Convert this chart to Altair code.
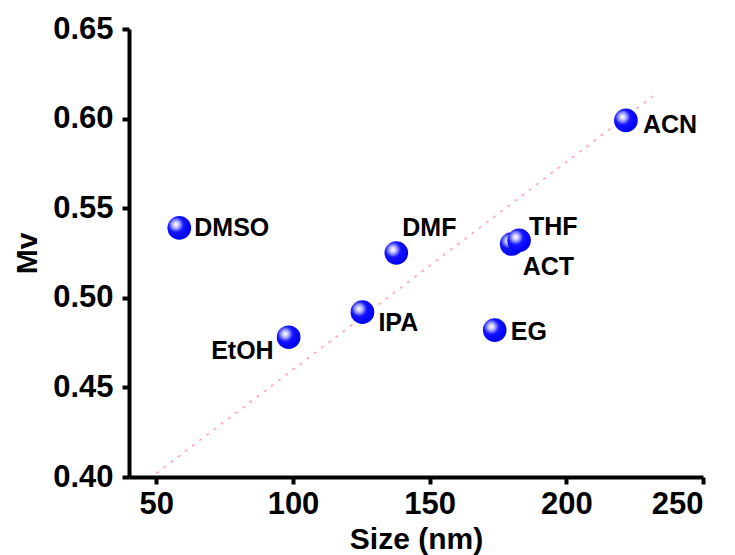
import altair as alt
import pandas as pd

# ---- data ----
solvents = ["DMSO", "EtOH", "IPA", "DMF", "EG", "ACT", "THF", "ACN"]
size_nm = [58.4, 98.4, 125.4, 137.8, 173.8, 180.0, 182.7, 221.8]
mv = [0.539, 0.478, 0.492, 0.525, 0.482, 0.530, 0.532, 0.599]

fit_x = [50, 233]
fit_y = [0.402, 0.614]

x_ticks = [50, 100, 150, 200, 250]
y_ticks = [0.40, 0.45, 0.50, 0.55, 0.60, 0.65]

df = pd.DataFrame({"solvent": solvents, "size": size_nm, "mv": mv})
fit_df = pd.DataFrame({"size": fit_x, "mv": fit_y})

FONT = "Liberation Sans"

xs = alt.Scale(domain=[40, 250], nice=False, zero=False)
ys = alt.Scale(domain=[0.40, 0.65], nice=False, zero=False)

x_enc = alt.X("size:Q", scale=xs, title="Size (nm)",
              axis=alt.Axis(values=x_ticks, format="d"))
y_enc = alt.Y("mv:Q", scale=ys, title="Mv",
              axis=alt.Axis(values=y_ticks, format=".2f"))

fit = alt.Chart(fit_df).mark_line(
    color="#ff9fb2", strokeWidth=1.5, strokeDash=[3, 6]
).encode(x=x_enc, y=y_enc)

sphere = alt.RadialGradient(
    gradient="radial",
    x1=0.36, y1=0.36, r1=0.0,
    x2=0.36, y2=0.36, r2=0.64,
    stops=[
        alt.GradientStop(color="#ffffff", offset=0.0),
        alt.GradientStop(color="#dcdcff", offset=0.13),
        alt.GradientStop(color="#8c8cff", offset=0.3),
        alt.GradientStop(color="#1414ff", offset=0.5),
        alt.GradientStop(color="#0000f2", offset=1.0),
    ],
)

points = alt.Chart(df).mark_circle(
    color=sphere, size=560, opacity=1
).encode(x=x_enc, y=y_enc)

label_style = {
    "DMSO": dict(dx=15, dy=0, align="left"),
    "EtOH": dict(dx=-15, dy=14, align="right"),
    "IPA": dict(dx=16, dy=11, align="left"),
    "DMF": dict(dx=6, dy=-25, align="left"),
    "EG": dict(dx=16, dy=2, align="left"),
    "ACT": dict(dx=11, dy=23, align="left"),
    "THF": dict(dx=10, dy=-13, align="left"),
    "ACN": dict(dx=17, dy=5, align="left"),
}

labels = []
for name, st in label_style.items():
    labels.append(
        alt.Chart(df).transform_filter(alt.datum.solvent == name).mark_text(
            font=FONT, fontSize=25, fontWeight="bold", color="black",
            baseline="middle", **st
        ).encode(x=x_enc, y=y_enc, text="solvent:N")
    )

chart = alt.layer(fit, points, *labels).properties(
    width=574, height=448,
    autosize=alt.AutoSizeParams(type="none"),
    padding={"left": 129, "top": 29, "right": 32, "bottom": 78},
).configure_view(stroke=None).configure_axis(
    grid=False,
    domainColor="black", domainWidth=4,
    tickColor="black", tickWidth=4, tickSize=7,
    labelFont=FONT, labelFontSize=31, labelFontWeight="bold", labelColor="black",
    titleFont=FONT, titleFontSize=30, titleFontWeight="bold", titleColor="black",
).configure_axisX(
    labelPadding=5, titlePadding=5,
).configure_axisY(
    labelPadding=9, titlePadding=10,
)

chart.save("out.html", embed_options={"renderer": "svg", "actions": False})
